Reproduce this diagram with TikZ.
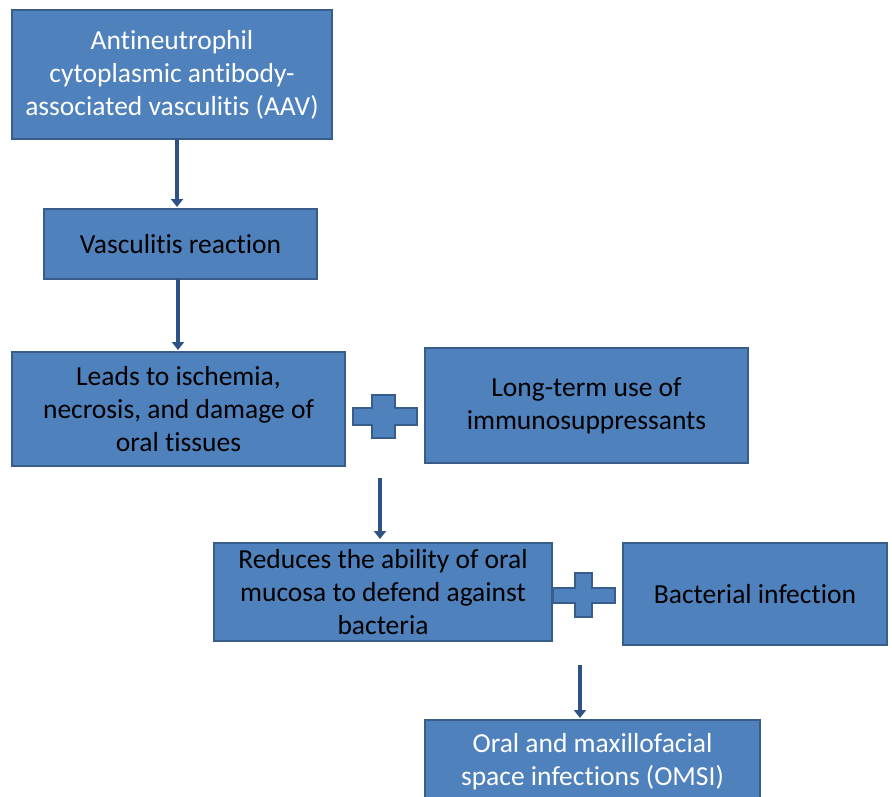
\documentclass[tikz,border=0pt]{standalone}
\usepackage{fontspec}
\setmainfont{Carlito}[Ligatures=NoCommon]
\usetikzlibrary{arrows.meta}
\definecolor{boxfill}{HTML}{4F81BD}
\definecolor{boxline}{HTML}{385D8A}
\definecolor{arrcol}{HTML}{2F5285}
\begin{document}
\begin{tikzpicture}[x=1pt,y=-1pt,
  box/.style={draw=boxline, line width=1.8pt, fill=boxfill, align=center, inner sep=0pt,
    font=\fontsize{27.5}{33}\selectfont, text=black},
  whitetext/.style={text=white},
  arr/.style={draw=arrcol, line width=3.5pt, -{Triangle[width=12pt,length=8pt]}},
  plusshape/.style={draw=boxline, line width=1.5pt, fill=boxfill}]
\useasboundingbox (0,0) rectangle (892,797);
\fill[white] (0,0) rectangle (892,797);
\clip (0,0) rectangle (892,797);
\node[box, whitetext, minimum width=320pt, minimum height=129pt] (b1) at (172,74.5)
  {Antineutrophil\\cytoplasmic antibody-\\associated vasculitis (AAV)};
\node[box, minimum width=273pt, minimum height=70pt] (b2) at (180.5,244) {Vasculitis reaction};
\node[box, minimum width=333pt, minimum height=114pt] (b3) at (178.5,409)
  {Leads to ischemia,\\necrosis, and damage of\\oral tissues};
\node[box, minimum width=323pt, minimum height=115pt] (b4) at (586.5,405.5)
  {Long-term use of\\immunosuppressants};
\node[box, minimum width=338pt, minimum height=98pt] (b5) at (383,592)
  {Reduces the ability of oral\\mucosa to defend against\\bacteria};
\node[box, minimum width=264pt, minimum height=102pt] (b6) at (755,594) {Bacterial infection};
\node[box, whitetext, minimum width=335pt, minimum height=84pt] (b7) at (592.5,762)
  {Oral and maxillofacial\\space infections (OMSI)};
% plus signs
\draw[plusshape] (353,408) -- (372,408) -- (372,395) -- (395,395) -- (395,408) -- (417,408)
  -- (417,425) -- (395,425) -- (395,438) -- (372,438) -- (372,425) -- (353,425) -- cycle;
\draw[plusshape] (553,588) -- (575,588) -- (575,573) -- (592,573) -- (592,588) -- (615,588)
  -- (615,603) -- (592,603) -- (592,617) -- (575,617) -- (575,603) -- (553,603) -- cycle;
% arrows
\coordinate (a1s) at (177,139);
\coordinate (a1e) at (177,207);
\coordinate (a2s) at (178,279);
\coordinate (a2e) at (178,350);
\coordinate (a3s) at (380,478);
\coordinate (a3e) at (380,539);
\coordinate (a4s) at (580,665);
\coordinate (a4e) at (580,718);
\draw[arr] (a1s) -- (a1e);
\draw[arr] (a2s) -- (a2e);
\draw[arr] (a3s) -- (a3e);
\draw[arr] (a4s) -- (a4e);
\end{tikzpicture}
\end{document}
